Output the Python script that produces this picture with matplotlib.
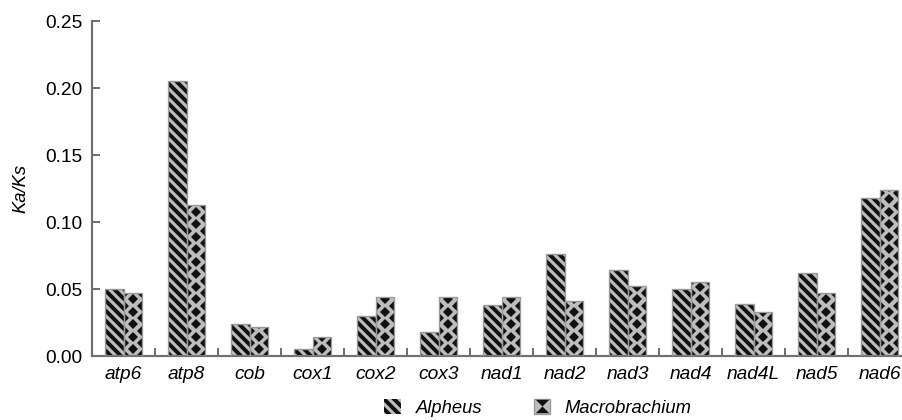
import numpy as np
import matplotlib
matplotlib.use("Agg")
from matplotlib import pyplot as plt
from matplotlib.patches import Patch
from matplotlib.lines import Line2D
from matplotlib.path import Path
from matplotlib.legend_handler import HandlerTuple

genes = ['atp6', 'atp8', 'cob', 'cox1', 'cox2', 'cox3', 'nad1',
         'nad2', 'nad3', 'nad4', 'nad4L', 'nad5', 'nad6']
alpheus = [0.050, 0.205, 0.024, 0.005, 0.030, 0.018, 0.038,
           0.076, 0.064, 0.050, 0.039, 0.062, 0.118]
macrobrachium = [0.047, 0.113, 0.022, 0.014, 0.044, 0.044, 0.044,
                 0.041, 0.052, 0.055, 0.033, 0.047, 0.124]
yticks = [0.00, 0.05, 0.10, 0.15, 0.20, 0.25]

plt.rcParams['font.family'] = ['Liberation Sans', 'DejaVu Sans']
plt.rcParams['hatch.linewidth'] = 1.9

fig = plt.figure(figsize=(902 / 120, 420 / 120), dpi=120)
ax = fig.add_axes([0.102, 0.152, 0.908, 0.798])

x = np.arange(len(genes))
w = 0.29
grey = '#bdbdbd'
outline = '#9a9a9a'
dark = '#111111'

# Alpheus: black with light diagonal stripes
ax.bar(x - w / 2, alpheus, w, color=dark, edgecolor=grey,
       hatch='\\\\\\\\', linewidth=0, zorder=2)
# Macrobrachium: grey with black diamonds (drawn as clipped markers)
bars2 = ax.bar(x + w / 2, macrobrachium, w, color=grey, linewidth=0, zorder=2)
step = 0.00466
for rect in bars2:
    x0 = rect.get_x()
    xc = x0 + rect.get_width() / 2
    x1 = x0 + rect.get_width()
    h = rect.get_height()
    px, py = [], []
    k = 0
    yy = 0.0005
    while yy < h + step:
        if k % 2 == 0:
            px += [x0, x1]
            py += [yy, yy]
        else:
            px.append(xc)
            py.append(yy)
        yy += step
        k += 1
    ln, = ax.plot(px, py, linestyle='none', marker='D', markersize=4.1,
                  markerfacecolor=dark, markeredgewidth=0, zorder=2.5)
    ln.set_clip_path(rect)

# thin grey outlines
ax.bar(x - w / 2, alpheus, w, fill=False, edgecolor=outline, linewidth=0.8, zorder=3)
ax.bar(x + w / 2, macrobrachium, w, fill=False, edgecolor=outline, linewidth=0.8, zorder=3)

ax.set_xlim(-0.5, len(genes) - 0.5)
ax.set_ylim(0, 0.25)
ax.set_yticks(yticks)
ax.set_yticklabels(['%.2f' % v for v in yticks], fontsize=11.5)
ax.set_xticks(x)
ax.set_xticklabels(genes, fontsize=11.5, style='italic')
ax.set_xticks(np.arange(0.5, len(genes) - 0.5), minor=True)
ax.tick_params(axis='x', which='major', length=0, pad=6)
ax.tick_params(axis='x', which='minor', direction='in', length=5, width=1.2, color='#707070')
ax.tick_params(axis='y', direction='in', length=5, width=1.2, color='#707070', pad=6)

for s in ['top', 'right']:
    ax.spines[s].set_visible(False)
for s in ['left', 'bottom']:
    ax.spines[s].set_color('#707070')
    ax.spines[s].set_linewidth(1.3)

ax.set_ylabel('Ka/Ks', fontsize=11, style='italic', labelpad=9)

hourglass = Path([(-1, 1), (1, 1), (0, 0), (1, -1), (-1, -1), (0, 0), (-1, 1)])
h1 = Patch(facecolor=dark, edgecolor=grey, hatch='\\\\\\\\', linewidth=0)
h2a = Patch(facecolor=grey, edgecolor=outline, linewidth=0.8)
h2b = Line2D([], [], linestyle='none', marker=hourglass, markersize=8,
             markerfacecolor=dark, markeredgewidth=0)
fig.legend([h1, (h2a, h2b)], ['Alpheus', 'Macrobrachium'], loc='center',
           bbox_to_anchor=(538 / 902, 1 - 408 / 420), ncol=2, frameon=False,
           prop={'size': 11, 'style': 'italic'}, handlelength=0.9,
           handleheight=0.9, columnspacing=2.8, handletextpad=0.8,
           handler_map={tuple: HandlerTuple(ndivide=1)})

fig.savefig('out.png', dpi=120)
